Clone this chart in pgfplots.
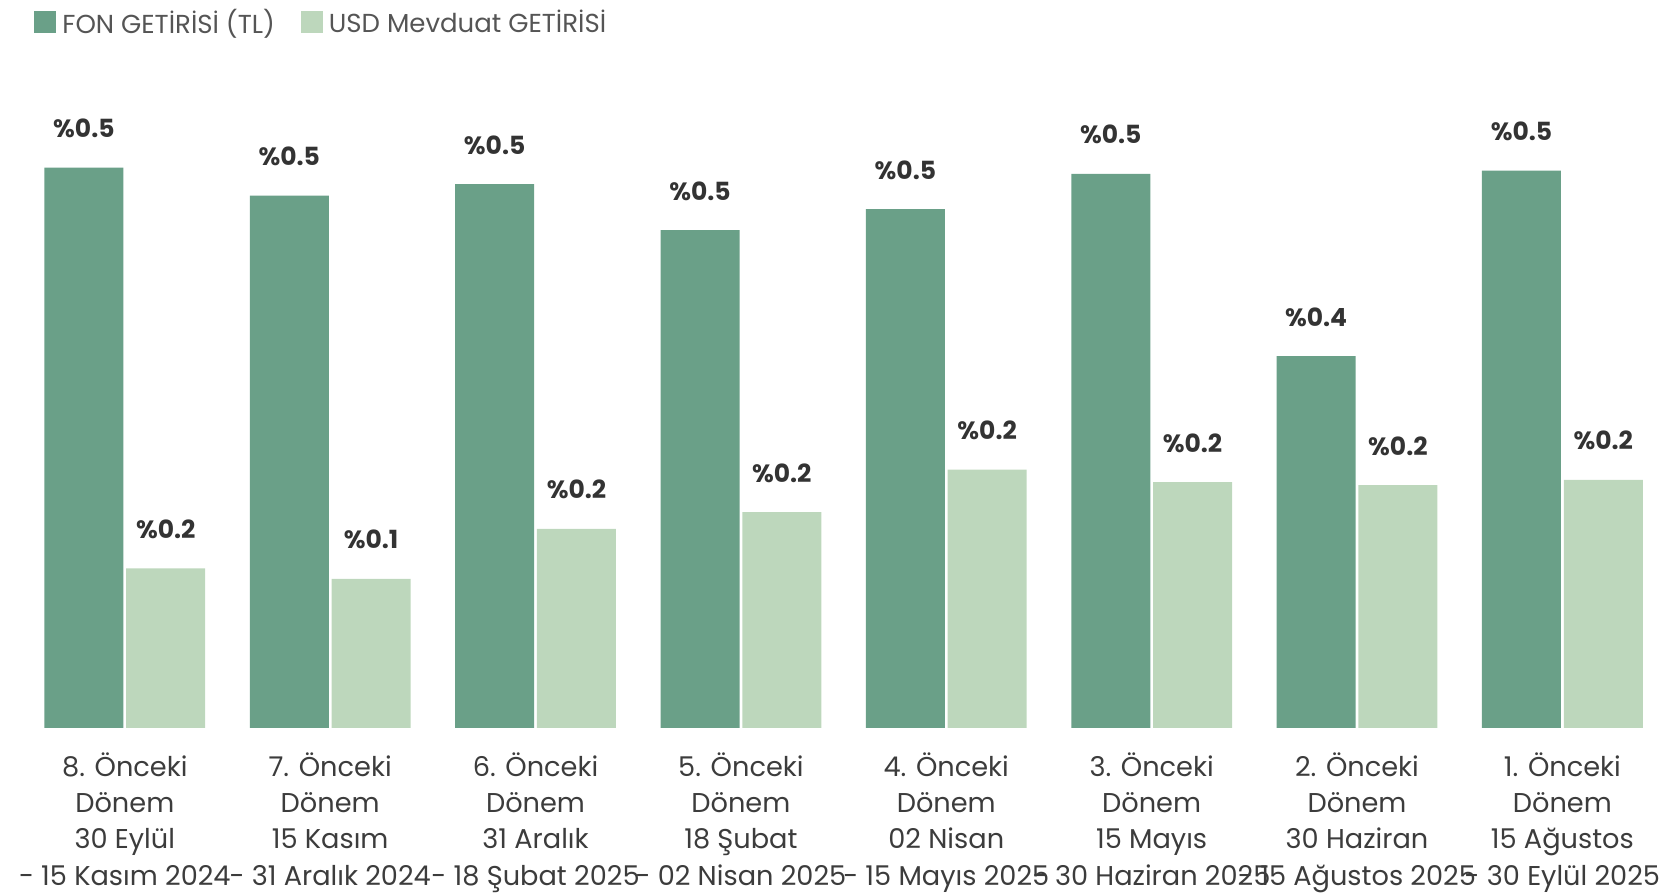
\documentclass[border=0pt]{standalone}
\usepackage{pgfplots}
\pgfplotsset{compat=1.18}
\usepackage{pgfplotstable}
\usepackage{fontspec}
\setmainfont{Poppins}
\definecolor{fon}{RGB}{106,160,136}
\definecolor{usd}{RGB}{189,215,188}
\definecolor{txt}{RGB}{51,51,51}
\definecolor{tick}{RGB}{60,60,60}
\definecolor{leg}{RGB}{85,85,85}
\pgfplotstableread{
x fon usd
0 0.538 0.153
1 0.511 0.143
2 0.522 0.191
3 0.478 0.207
4 0.498 0.248
5 0.532 0.236
6 0.357 0.233
7 0.535 0.238
}\datatable
\begin{document}
\begin{tikzpicture}
\useasboundingbox (0,0) rectangle (833pt,447.5pt);
\begin{axis}[
  at={(16.2pt,83.6pt)}, anchor=south west,
  scale only axis, width=811.2pt, height=312.4pt,
  xmin=-0.45, xmax=7.45, ymin=0, ymax=0.6,
  ybar=1.4pt, bar width=39.5pt,
  clip=false,
  axis line style={draw=none}, tick style={draw=none},
  ytick=\empty,
  xtick={0,...,7},
  xticklabels={
    {8. Önceki\\Dönem\\30 Eylül\\- 15 Kasım 2024},
    {7. Önceki\\Dönem\\15 Kasım\\- 31 Aralık 2024},
    {6. Önceki\\Dönem\\31 Aralık\\- 18 Şubat 2025},
    {5. Önceki\\Dönem\\18 Şubat\\- 02 Nisan 2025},
    {4. Önceki\\Dönem\\02 Nisan\\- 15 Mayıs 2025},
    {3. Önceki\\Dönem\\15 Mayıs\\- 30 Haziran 2025},
    {2. Önceki\\Dönem\\30 Haziran\\- 15 Ağustos 2025},
    {1. Önceki\\Dönem\\15 Ağustos\\- 30 Eylül 2025}},
  xticklabel style={align=center, anchor=north, inner sep=0pt, yshift=-8pt,
    font=\fontsize{13.6}{18.1}\selectfont, text=tick},
  nodes near coords={\%\pgfmathprintnumber[fixed,fixed zerofill,precision=1,assume math mode=true]{\pgfplotspointmeta}},
  every node near coord/.append style={anchor=base, yshift=15pt,
    font=\fontsize{12.5}{14}\selectfont\bfseries, text=txt},
  legend columns=-1,
  legend image code/.code={\fill[#1] (0pt,-5.5pt) rectangle (11pt,5.5pt);},
  legend style={at={(axis description cs:0.001,1.129)}, anchor=west,
    draw=none, fill=none, inner xsep=0pt, inner ysep=0pt,
    font=\fontsize{13}{14}\selectfont, text=leg,
    nodes={inner xsep=3pt, inner ysep=0pt},
    /tikz/every even column/.append style={column sep=10pt}},
]
\addplot[fill=fon, draw=none] table[x=x,y=fon]{\datatable};
\addplot[fill=usd, draw=none] table[x=x,y=usd]{\datatable};
\legend{FON GETİRİSİ (TL), USD Mevduat GETİRİSİ}
\end{axis}
\end{tikzpicture}
\end{document}
